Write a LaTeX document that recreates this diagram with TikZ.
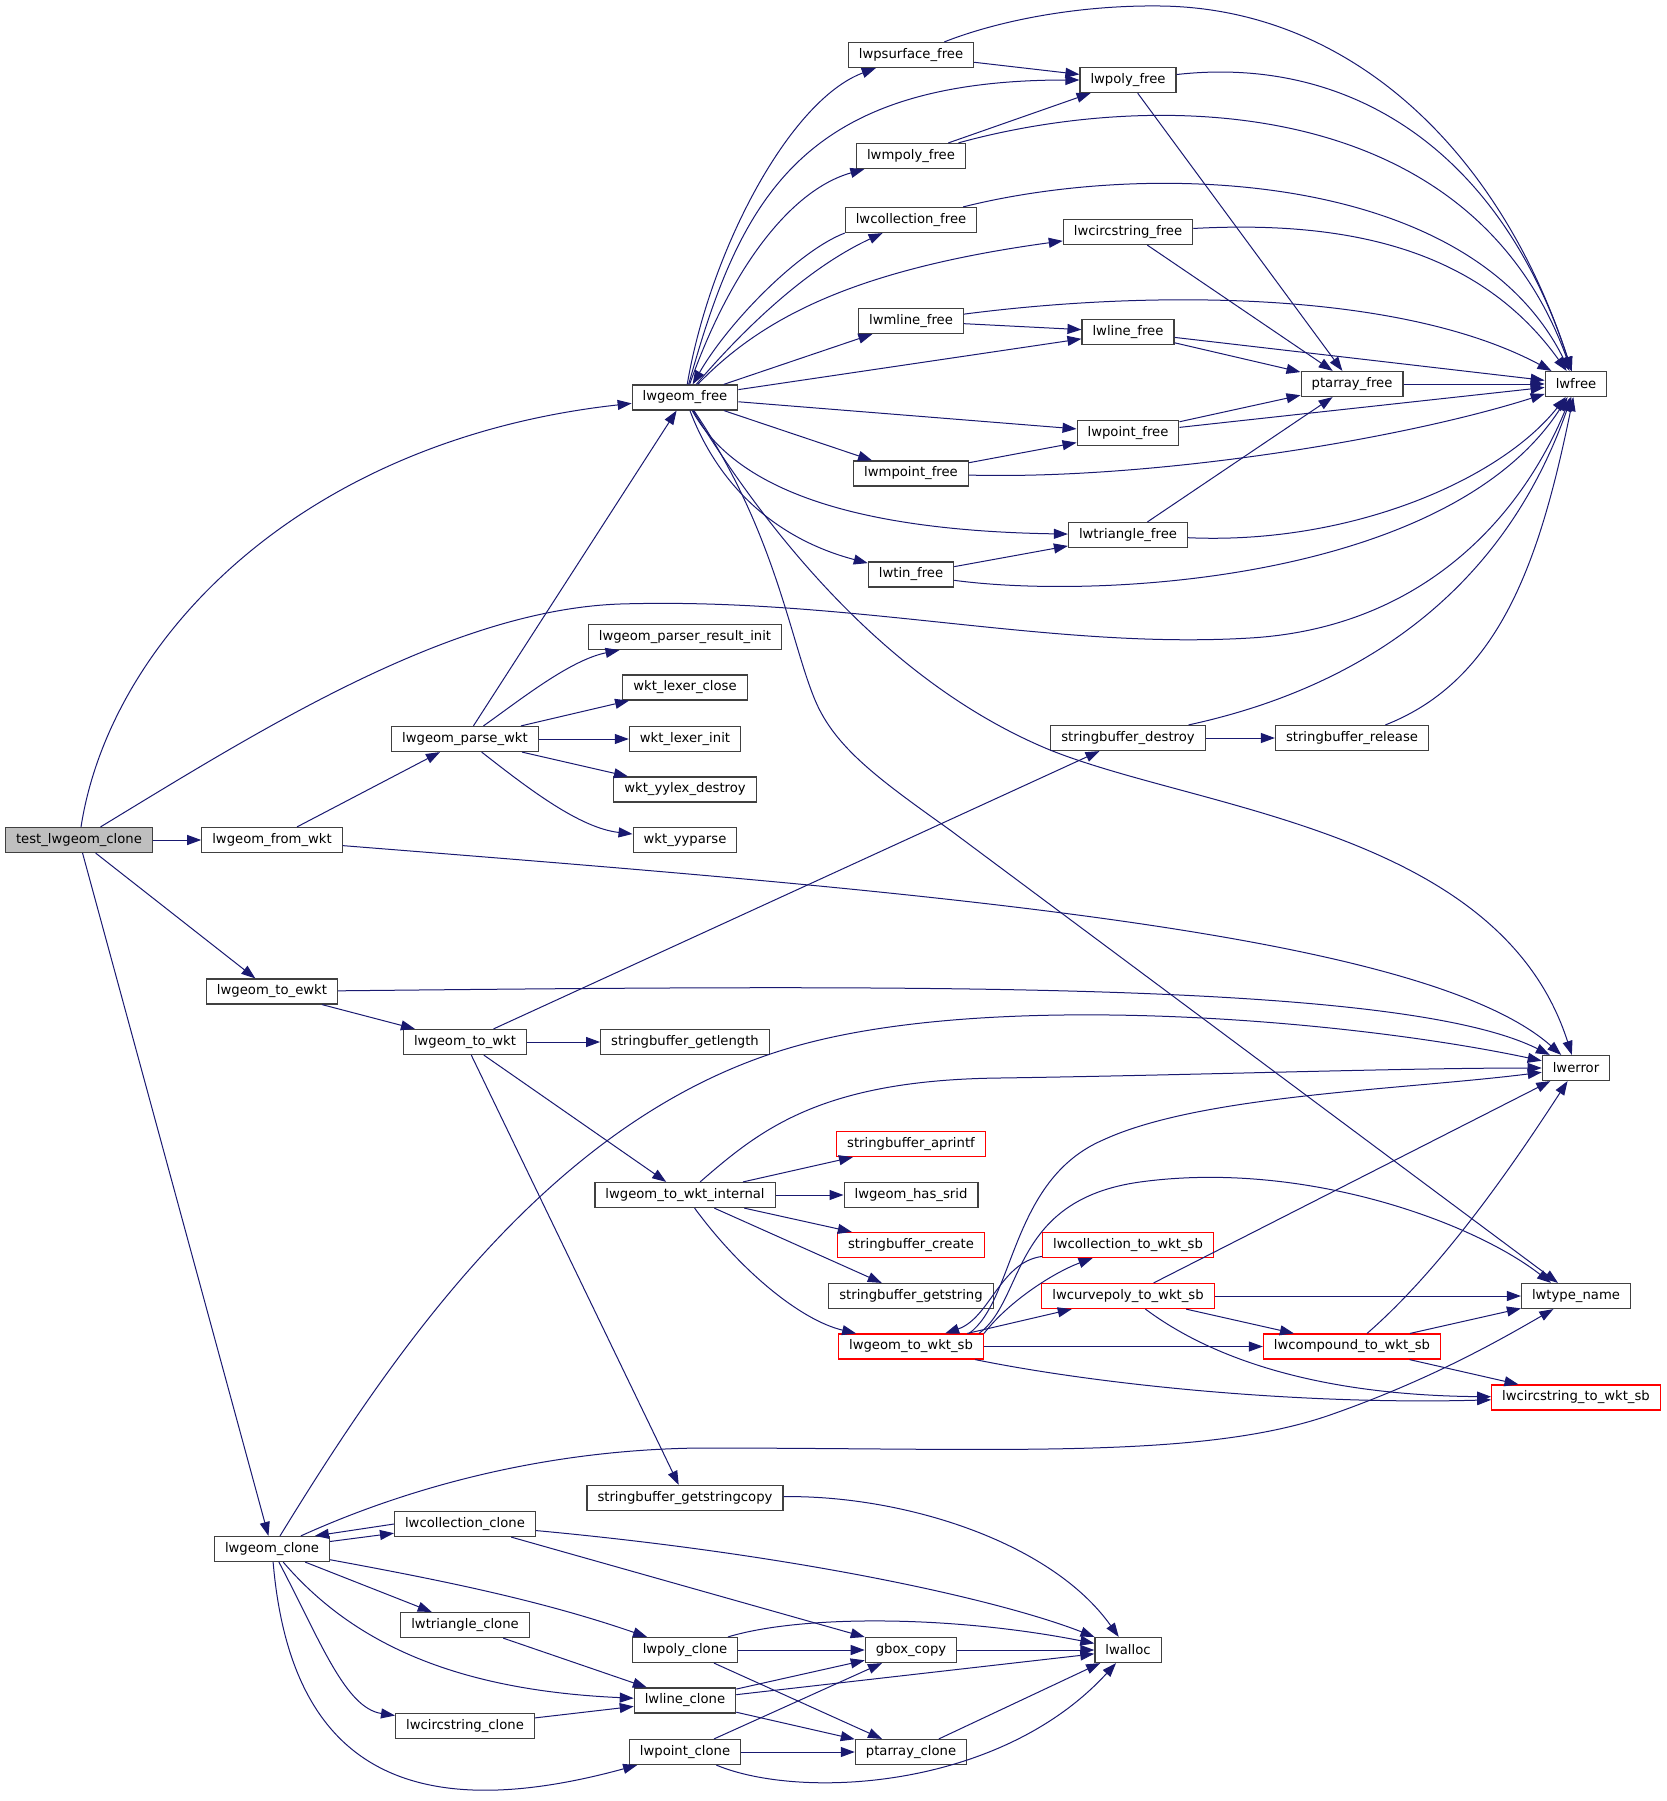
\documentclass[tikz,border=0pt]{standalone}
\usepackage{fontspec}
\setmainfont{DejaVu Sans}
\usetikzlibrary{arrows.meta}

\definecolor{edgeblue}{HTML}{191970}
\definecolor{boxgray}{HTML}{404040}
\definecolor{rootfill}{HTML}{BFBFBF}

\begin{document}
\begin{tikzpicture}[
	x=1pt, y=-1pt,
	fn/.style = {shape=rectangle, draw=boxgray, line width=1.2pt, fill=white,
		minimum height=25pt, inner xsep=10.5pt, inner ysep=0pt,
		font=\fontsize{13.2}{15}\selectfont},
	root/.style = {fn, fill=rootfill},
	trunc/.style = {fn, draw=red},
	call/.style = {draw=edgeblue, line width=1pt,
		-{Triangle[length=14pt,width=10pt]}}]
	\useasboundingbox (0,0) rectangle (1667,1801);

	% rank 0 and 1
	\node[root] (tclone) at (79,840) {test\_lwgeom\_clone};
	\node[fn] (fromwkt) at (272,840) {lwgeom\_from\_wkt};
	\node[fn] (toewkt) at (272,991.5) {lwgeom\_to\_ewkt};
	\node[fn] (gclone) at (272,1549) {lwgeom\_clone};
	% rank 2
	\node[fn] (parsewkt) at (465,739) {lwgeom\_parse\_wkt};
	\node[fn] (towkt) at (465,1042) {lwgeom\_to\_wkt};
	\node[fn] (collclone) at (465,1524) {lwcollection\_clone};
	\node[fn] (triclone) at (465,1625) {lwtriangle\_clone};
	\node[fn] (circclone) at (465,1726) {lwcircstring\_clone};
	% rank 3
	\node[fn] (gfree) at (685,397.5) {lwgeom\_free};
	\node[fn] (resinit) at (685,637) {lwgeom\_parser\_result\_init};
	\node[fn] (lexclose) at (685,687.5) {wkt\_lexer\_close};
	\node[fn] (lexinit) at (685,739) {wkt\_lexer\_init};
	\node[fn] (yydestroy) at (685,789.5) {wkt\_yylex\_destroy};
	\node[fn] (yyparse) at (685,840) {wkt\_yyparse};
	\node[fn] (getlength) at (685,1042) {stringbuffer\_getlength};
	\node[fn] (wktint) at (685,1195) {lwgeom\_to\_wkt\_internal};
	\node[fn] (getcopy) at (685,1498) {stringbuffer\_getstringcopy};
	\node[fn] (polyclone) at (685,1650) {lwpoly\_clone};
	\node[fn] (lineclone) at (685,1700.5) {lwline\_clone};
	\node[fn] (pointclone) at (685,1752) {lwpoint\_clone};
	% rank 4
	\node[fn] (psurffree) at (911,55) {lwpsurface\_free};
	\node[fn] (mpolyfree) at (911,156) {lwmpoly\_free};
	\node[fn] (collfree) at (911,220) {lwcollection\_free};
	\node[fn] (mlinefree) at (911,321) {lwmline\_free};
	\node[fn] (mpointfree) at (911,473.5) {lwmpoint\_free};
	\node[fn] (tinfree) at (911,574.5) {lwtin\_free};
	\node[trunc] (aprintf) at (911,1144) {stringbuffer\_aprintf};
	\node[fn] (hassrid) at (911,1195) {lwgeom\_has\_srid};
	\node[trunc] (sbcreate) at (911,1245) {stringbuffer\_create};
	\node[fn] (getstring) at (911,1296) {stringbuffer\_getstring};
	\node[trunc] (wktsb) at (911,1346.5) {lwgeom\_to\_wkt\_sb};
	\node[fn] (gboxcopy) at (911,1650) {gbox\_copy};
	\node[fn] (ptclone) at (911,1752) {ptarray\_clone};
	% rank 5
	\node[fn] (polyfree) at (1128,80) {lwpoly\_free};
	\node[fn] (circfree) at (1128,232) {lwcircstring\_free};
	\node[fn] (linefree) at (1128,332) {lwline\_free};
	\node[fn] (pointfree) at (1128,433) {lwpoint\_free};
	\node[fn] (trifree) at (1128,535) {lwtriangle\_free};
	\node[fn] (sbdestroy) at (1128,738) {stringbuffer\_destroy};
	\node[trunc] (collsb) at (1128,1245) {lwcollection\_to\_wkt\_sb};
	\node[trunc] (curvesb) at (1128,1296) {lwcurvepoly\_to\_wkt\_sb};
	\node[fn] (lwalloc) at (1128,1650) {lwalloc};
	% rank 6
	\node[fn] (ptfree) at (1352,384) {ptarray\_free};
	\node[fn] (sbrelease) at (1352,738) {stringbuffer\_release};
	\node[trunc] (compsb) at (1352,1346.5) {lwcompound\_to\_wkt\_sb};
	% rank 7
	\node[fn] (lwfree) at (1576,384) {lwfree};
	\node[fn] (lwerror) at (1576,1068) {lwerror};
	\node[fn] (typename) at (1576,1296) {lwtype\_name};
	\node[trunc] (circsb) at (1576,1397.5) {lwcircstring\_to\_wkt\_sb};

	% test_lwgeom_clone
	\draw[call] (tclone) .. controls (110,640) and (300,440) .. (gfree);
	\draw[call] (tclone) .. controls (260,730) and (450,610) .. (620,604)
		.. controls (850,597) and (1050,650) .. (1250,638)
		.. controls (1420,628) and (1520,520) .. (lwfree);
	\draw[call] (tclone) -- (fromwkt);
	\draw[call] (tclone) -- (toewkt);
	\draw[call] (tclone) -- (gclone);

	% lwgeom_from_wkt, lwgeom_to_ewkt
	\draw[call] (fromwkt) -- (parsewkt);
	\draw[call] (fromwkt) .. controls (900,890) and (1420,930) .. (lwerror);
	\draw[call] (toewkt) -- (towkt);
	\draw[call] (toewkt) .. controls (900,985) and (1400,980) .. (lwerror);

	% lwgeom_parse_wkt
	\draw[call] (parsewkt) -- (gfree);
	\draw[call] (parsewkt) .. controls (520,700) and (570,660) .. (resinit);
	\draw[call] (parsewkt) -- (lexclose);
	\draw[call] (parsewkt) -- (lexinit);
	\draw[call] (parsewkt) -- (yydestroy);
	\draw[call] (parsewkt) .. controls (530,790) and (580,828) .. (yyparse);

	% lwgeom_to_wkt
	\draw[call] (towkt) -- (sbdestroy);
	\draw[call] (towkt) -- (getlength);
	\draw[call] (towkt) -- (wktint);
	\draw[call] (towkt) -- (getcopy);

	% lwgeom_clone
	\draw[call] (gclone) .. controls (400,1340) and (560,1110) .. (800,1045)
		.. controls (1000,990) and (1350,1020) .. (lwerror);
	\draw[call] (gclone) .. controls (380,1500) and (520,1450) .. (700,1448)
		.. controls (1000,1448) and (1200,1460) .. (1330,1415)
		.. controls (1430,1380) and (1500,1340) .. (typename);
	\draw[call] (gclone) -- (collclone);
	\draw[call] (collclone.west) -- (gclone.17);
	\draw[call] (gclone) -- (triclone);
	\draw[call] (gclone) .. controls (440,1580) and (540,1600) .. (polyclone);
	\draw[call] (gclone) .. controls (350,1640) and (450,1690) .. (lineclone);
	\draw[call] (gclone) .. controls (320,1640) and (345,1708) .. (circclone);
	\draw[call] (gclone) .. controls (290,1760) and (400,1830) .. (pointclone);

	% clone helpers
	\draw[call] (collclone) .. controls (800,1555) and (1000,1600) .. (lwalloc);
	\draw[call] (collclone) -- (gboxcopy);
	\draw[call] (triclone) -- (lineclone);
	\draw[call] (circclone) -- (lineclone);
	\draw[call] (polyclone) .. controls (800,1615) and (950,1615) .. (lwalloc);
	\draw[call] (polyclone) -- (gboxcopy);
	\draw[call] (polyclone) -- (ptclone);
	\draw[call] (lineclone) -- (gboxcopy);
	\draw[call] (lineclone) -- (lwalloc);
	\draw[call] (lineclone) -- (ptclone);
	\draw[call] (pointclone) -- (gboxcopy);
	\draw[call] (pointclone) -- (ptclone);
	\draw[call] (pointclone) .. controls (800,1800) and (1000,1790) .. (lwalloc);
	\draw[call] (gboxcopy) -- (lwalloc);
	\draw[call] (ptclone) -- (lwalloc);
	\draw[call] (getcopy) .. controls (900,1495) and (1050,1540) .. (lwalloc);

	% lwgeom_to_wkt_internal
	\draw[call] (wktint) .. controls (760,1130) and (820,1080) .. (1000,1078)
		.. controls (1200,1075) and (1400,1068) .. (lwerror);
	\draw[call] (wktint) -- (aprintf);
	\draw[call] (wktint) -- (hassrid);
	\draw[call] (wktint) -- (sbcreate);
	\draw[call] (wktint) -- (getstring);
	\draw[call] (wktint) .. controls (740,1270) and (800,1320) .. (wktsb);

	% lwgeom_to_wkt_sb
	\draw[call] ([xshift=-15pt]wktsb.north east) .. controls (1015,1300) and (1010,1180) .. (1103,1140)
		.. controls (1200,1095) and (1400,1090) .. (lwerror);
	\draw[call] ([xshift=-5pt]wktsb.north east) .. controls (1025,1300) and (1010,1200) .. (1140,1182)
		.. controls (1300,1160) and (1470,1220) .. ([xshift=-25pt]typename.north);
	\draw[call] (collsb) .. controls (1000,1262) and (990,1318) .. (wktsb.21);
	\draw[call] (wktsb.north east) .. controls (1010,1300) and (1055,1272) .. (collsb);
	\draw[call] (wktsb) -- (curvesb);
	\draw[call] (wktsb) -- (compsb);
	\draw[call] (wktsb) .. controls (1100,1385) and (1300,1405) .. (circsb);

	% lwcurvepoly_to_wkt_sb, lwcompound_to_wkt_sb
	\draw[call] (curvesb) -- (lwerror);
	\draw[call] (curvesb) -- (typename);
	\draw[call] (curvesb) -- (compsb);
	\draw[call] (curvesb) .. controls (1200,1350) and (1300,1395) .. (circsb);
	\draw[call] (compsb) .. controls (1440,1270) and (1510,1170) .. (lwerror);
	\draw[call] (compsb) -- (typename);
	\draw[call] (compsb) -- (circsb);

	% lwgeom_free
	\draw[call] (gfree) .. controls (710,250) and (790,100) .. (psurffree);
	\draw[call] (gfree) .. controls (740,200) and (800,80) .. (polyfree);
	\draw[call] (gfree) .. controls (730,270) and (790,190) .. (mpolyfree);
	\draw[call] (collfree.south west) .. controls (800,250) and (730,320) .. (gfree);
	\draw[call] (gfree) .. controls (760,310) and (820,262) .. (collfree);
	\draw[call] (gfree) .. controls (760,320) and (850,270) .. (circfree);
	\draw[call] (gfree) -- (mlinefree);
	\draw[call] (gfree) -- (linefree);
	\draw[call] (gfree) -- (pointfree);
	\draw[call] (gfree) -- (mpointfree);
	\draw[call] (gfree) .. controls (725,470) and (810,530) .. (trifree);
	\draw[call] (gfree) .. controls (720,490) and (780,540) .. (tinfree);
	\draw[call] (gfree) .. controls (760,520) and (880,680) .. (1050,750)
		.. controls (1200,810) and (1500,830) .. (lwerror);
	\draw[call] (gfree) .. controls (775,530) and (790,640) .. (815,700)
		.. controls (835,748) and (880,780) .. (950,830)
		-- ([xshift=-18pt]typename.north);

	% the *_free family
	\draw[call] (psurffree) -- (polyfree);
	\draw[call] (psurffree) .. controls (1000,20) and (1080,5) .. (1160,6)
		.. controls (1350,8) and (1500,150) .. (lwfree);
	\draw[call] (polyfree) .. controls (1350,55) and (1500,150) .. (lwfree);
	\draw[call] (polyfree) -- (ptfree);
	\draw[call] (mpolyfree) -- (polyfree);
	\draw[call] (mpolyfree) .. controls (1150,90) and (1470,90) .. (lwfree);
	\draw[call] (collfree) .. controls (1150,160) and (1470,170) .. (lwfree);
	\draw[call] (circfree) .. controls (1350,220) and (1480,250) .. (lwfree);
	\draw[call] (circfree) -- (ptfree);
	\draw[call] (mlinefree) -- (linefree);
	\draw[call] (mlinefree) .. controls (1150,290) and (1400,290) .. (lwfree);
	\draw[call] (linefree) -- (lwfree);
	\draw[call] (linefree) -- (ptfree);
	\draw[call] (pointfree) -- (ptfree);
	\draw[call] (pointfree) -- (lwfree);
	\draw[call] (mpointfree) -- (pointfree);
	\draw[call] (mpointfree) .. controls (1150,480) and (1400,440) .. (lwfree);
	\draw[call] (trifree) -- (ptfree);
	\draw[call] (trifree) .. controls (1350,545) and (1500,480) .. (lwfree);
	\draw[call] (tinfree) -- (trifree);
	\draw[call] (tinfree) .. controls (1100,600) and (1450,580) .. (lwfree);
	\draw[call] (ptfree) -- (lwfree);

	% stringbuffer_destroy
	\draw[call] (sbdestroy) .. controls (1350,690) and (1500,600) .. (lwfree);
	\draw[call] (sbdestroy) -- (sbrelease);
	\draw[call] (sbrelease) .. controls (1500,680) and (1540,560) .. (lwfree);
\end{tikzpicture}
\end{document}
